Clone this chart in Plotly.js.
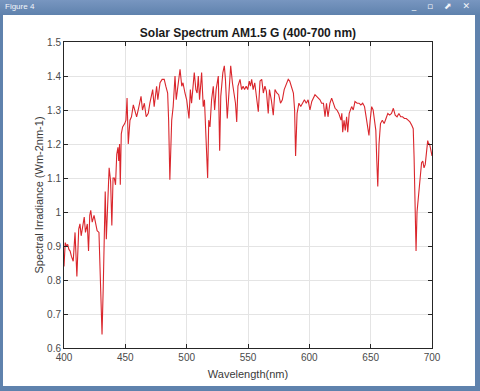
<!DOCTYPE html>
<html>
<head>
<meta charset="utf-8">
<script src="https://cdn.plot.ly/plotly-3.0.1.min.js"></script>
<style>
  html, body { margin: 0; padding: 0; }
  body { width: 480px; height: 391px; position: relative; overflow: hidden; background: #5f82ad; }
  #titlebar { position: absolute; left: 0; top: 0; width: 480px; height: 15px;
    background: linear-gradient(#7896c0, #5f82ad); }
  #titlebar span { position: absolute; left: 5px; top: 2px; font: 8px "Liberation Sans", Arial, sans-serif; color: #f2f5fa; }
  #btns { position: absolute; right: 6px; top: 1px; font: 9px "DejaVu Sans", sans-serif; color: #f2f5fa; letter-spacing: 4px; }
  #inner { position: absolute; left: 3px; top: 15px; width: 472px; height: 371px; background: #ffffff; }
  #myDiv { position: absolute; left: 0; top: 0; width: 480px; height: 391px; }
</style>
</head>
<body>
<div id="titlebar"><span>Figure 4</span><div id="btns">_ ▫ ⬈ ✕</div></div>
<div id="inner"></div>
<div id="myDiv"></div>
<script>
var wavelength = [400,401,402,403,404,405,406,407.5,409,410.5,412,413,414,415.5,416.5,417.5,419,420,421,421.8,423,424.5,426,427,428.5,429.5,430.5,431,432,433,433.6,434.5,435.5,436.8,438,439,440,441,442,443,444,444.6,445.3,445.9,446.7,447.8,449.5,450.5,451.4,452.4,453.8,455,456.5,458,459.2,460.5,462.8,464,465.5,467,468.7,470,471.5,472.3,473.5,475.5,476.5,478.3,480,481.7,483,484.5,485.3,486.3,487.8,489,490.5,491.5,492.5,494.6,496,497,498.6,500,501.9,503,504,506.2,507.5,508.5,509.5,510.5,512.2,513.5,514.5,515.5,517.1,518,519,520.3,521.7,522.8,524,525.8,526.9,527.8,529.5,530.7,531.6,533.1,534.3,535.9,537.3,538.5,539.8,540.8,541.8,543.5,544.8,546,547.2,548.5,549.8,551,552,553,554.2,555.5,557,558.4,559.8,561.2,562.5,563.8,565,566.5,567.5,569,570.6,572,573.5,575,576.5,578,579.5,581,582.8,584,585.5,587,588,588.8,590,591.5,593,594.5,596,597.5,599,600.5,602,604.6,606,607.5,608.7,610,611.5,612.8,614,615.2,616.8,618.2,619.5,621,622.5,624,625.8,626.5,627.2,628.3,629.3,630.4,631.3,632.5,634.5,635.8,637.2,639,640.5,642,643.5,645,646.3,647.5,648.6,649.6,650.8,652,653.2,654.2,655,655.8,656.8,658,659.5,661,662.5,664,665.5,667,668.5,670,671.5,673,674.5,676,677.5,679,680.5,682,683.5,684.7,685.4,686.2,687,687.8,688.8,690,691.5,692.5,693.5,694.5,695.7,696.5,697.2,698,698.9,700];

var irradiance = [0.84,0.91,0.90,0.905,0.89,0.885,0.87,0.855,0.94,0.81,0.95,0.965,0.93,0.97,0.985,0.94,0.965,0.885,0.99,1.005,0.97,0.99,0.96,0.945,0.94,0.83,0.70,0.64,0.78,0.98,1.06,0.92,1.00,1.13,1.09,0.96,1.10,1.10,1.08,1.17,1.19,1.15,1.20,1.08,1.23,1.25,1.26,1.27,1.335,1.20,1.27,1.28,1.315,1.29,1.28,1.30,1.34,1.30,1.32,1.28,1.29,1.32,1.35,1.36,1.31,1.37,1.33,1.38,1.39,1.39,1.37,1.35,1.27,1.095,1.27,1.31,1.40,1.33,1.36,1.42,1.37,1.38,1.35,1.33,1.275,1.36,1.32,1.41,1.36,1.35,1.40,1.33,1.41,1.31,1.33,1.24,1.10,1.27,1.25,1.33,1.37,1.30,1.36,1.40,1.18,1.34,1.41,1.43,1.39,1.275,1.36,1.43,1.38,1.35,1.32,1.265,1.37,1.39,1.36,1.37,1.36,1.37,1.36,1.385,1.37,1.39,1.36,1.38,1.34,1.295,1.385,1.39,1.35,1.37,1.355,1.29,1.36,1.33,1.285,1.36,1.35,1.345,1.32,1.33,1.36,1.375,1.39,1.385,1.37,1.35,1.30,1.165,1.29,1.32,1.31,1.32,1.33,1.32,1.33,1.30,1.325,1.345,1.34,1.335,1.33,1.32,1.32,1.28,1.32,1.28,1.32,1.335,1.32,1.305,1.30,1.29,1.27,1.29,1.235,1.27,1.24,1.28,1.235,1.29,1.31,1.30,1.325,1.32,1.32,1.315,1.32,1.31,1.28,1.25,1.225,1.27,1.31,1.30,1.27,1.24,1.15,1.075,1.20,1.26,1.27,1.26,1.275,1.29,1.285,1.29,1.305,1.285,1.28,1.29,1.28,1.28,1.275,1.275,1.27,1.265,1.255,1.245,1.16,0.97,0.885,1.00,1.035,1.09,1.145,1.15,1.13,1.14,1.18,1.21,1.20,1.20,1.185,1.165];

var xTicks = [400, 450, 500, 550, 600, 650, 700];
var yTicks = [0.6, 0.7, 0.8, 0.9, 1, 1.1, 1.2, 1.3, 1.4, 1.5];

var trace1 = {
    x: wavelength,
    y: irradiance,
    mode: 'lines',
    name: 'AM1.5 G',
    line: { color: 'rgb(218, 38, 44)', width: 1.1 }
};

var axisStyle = {
    showline: true,
    linecolor: '#262626',
    linewidth: 1,
    mirror: 'ticks',
    ticks: 'inside',
    ticklen: 4,
    tickcolor: '#262626',
    showgrid: true,
    gridcolor: '#e4e4e4',
    gridwidth: 1,
    zeroline: false,
    tickfont: { family: 'Liberation Sans, Arial, sans-serif', size: 10, color: '#4a4a4a' }
};

var layout = {
    width: 480,
    height: 391,
    margin: { l: 64, r: 48, t: 42, b: 43 },
    paper_bgcolor: 'rgba(0,0,0,0)',
    plot_bgcolor: '#ffffff',
    showlegend: false,
    title: {
        text: '<b>Solar Spectrum AM1.5 G (400-700 nm)</b>',
        font: { family: 'Liberation Sans, Arial, sans-serif', size: 12, color: '#1a1a1a' },
        x: 0.5166, xanchor: 'center', yref: 'container', y: 0.916, yanchor: 'middle'
    },
    xaxis: Object.assign({}, axisStyle, {
        range: [400, 700],
        tickvals: xTicks,
        title: { text: 'Wavelength(nm)', standoff: 8,
                 font: { family: 'Liberation Sans, Arial, sans-serif', size: 11, color: '#3a3a3a' } }
    }),
    yaxis: Object.assign({}, axisStyle, {
        range: [0.6, 1.5],
        tickvals: yTicks,
        title: { text: 'Spectral Irradiance (Wm-2nm-1)', standoff: 1,
                 font: { family: 'Liberation Sans, Arial, sans-serif', size: 11, color: '#3a3a3a' } }
    })
};

Plotly.newPlot('myDiv', [trace1], layout, { displayModeBar: false, staticPlot: true });
</script>
</body>
</html>
